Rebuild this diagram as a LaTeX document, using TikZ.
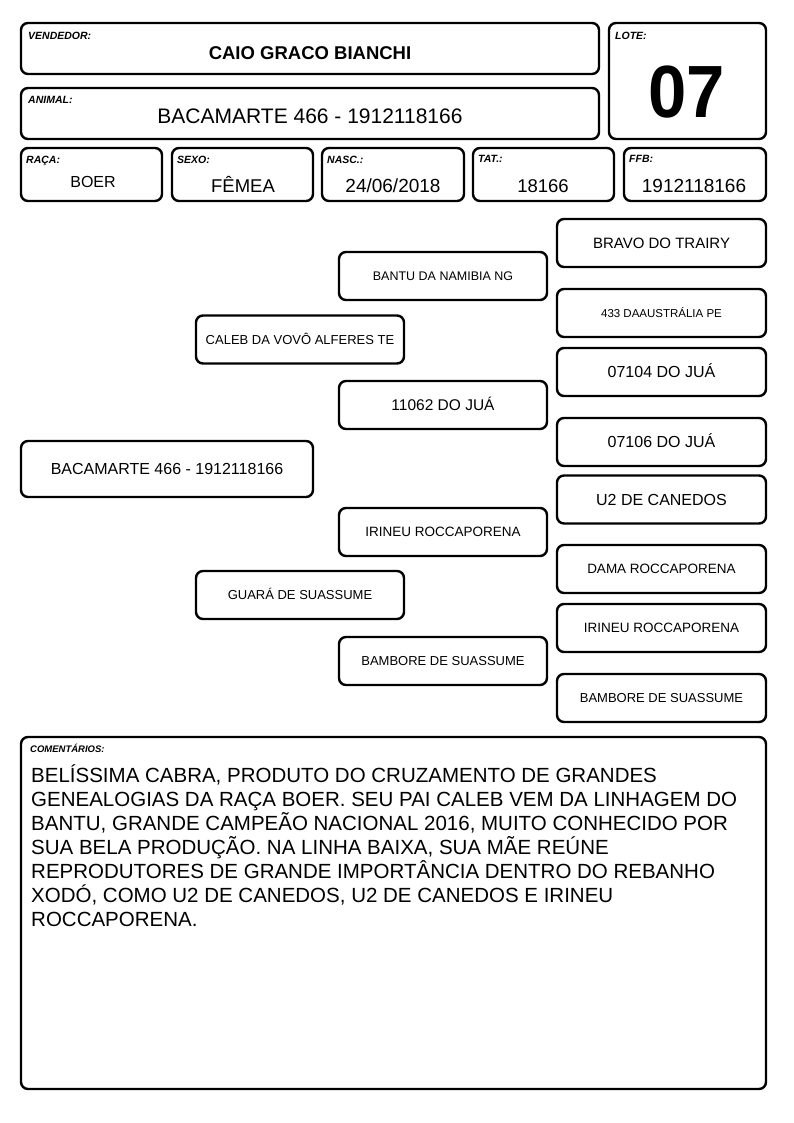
\documentclass[tikz,border=0pt]{standalone}
\usepackage{fontspec}
\setmainfont{Liberation Sans}
\usetikzlibrary{positioning}
\newcommand{\fs}[1]{\fontsize{#1}{#1}\selectfont}
\tikzset{caixa/.style={draw,rounded corners=7pt,line width=2.4pt,inner sep=0pt}}
\tikzset{rotulo/.style={anchor=north west,inner sep=0pt,font=\fs{10.5}\bfseries\itshape}}
\tikzset{valor/.style={inner sep=0pt,font=\fs{#1},text height=#1*0.716pt,text depth=0pt}}
\tikzset{ped/.style={caixa,minimum width=208pt,minimum height=48pt,font=\fs{#1},text height=#1*0.716pt,text depth=0pt}}

\begin{document}
\begin{tikzpicture}[x=1pt,y=-1pt]
  \useasboundingbox (0,0) rectangle (794,1123);
  % cabecalho
  \node[caixa,minimum width=578pt,minimum height=51pt] (vendedor) at (310,48.5) {};
  \node[rotulo] (lvendedor) at (28,31.5) {VENDEDOR:};
  \node[valor=18.5] (nvendedor) at (310,53) {\bfseries CAIO GRACO BIANCHI};

  \node[caixa,minimum width=578pt,minimum height=51pt] (animal) at (310,113.5) {};
  \node[rotulo] (lanimal) at (28,96.5) {ANIMAL:};
  \node[valor=21] (nanimal) at (310,116) {BACAMARTE 466 - 1912118166};

  \node[caixa,minimum width=157pt,minimum height=116pt] (lote) at (687.5,81) {};
  \node[rotulo] (llote) at (615,31.5) {LOTE:};
  \node[valor=74,xscale=.93] (nlote) at (686.5,91.5) {\bfseries 07};

  % linha de dados
  \node[caixa,minimum width=141pt,minimum height=53pt] (raca) at (91.5,174.5) {};
  \node[caixa,minimum width=141pt,minimum height=53pt] (sexo) at (242.5,174.5) {};
  \node[caixa,minimum width=142pt,minimum height=53pt] (nasc) at (393,174.5) {};
  \node[caixa,minimum width=141pt,minimum height=53pt] (tat) at (543.5,174.5) {};
  \node[caixa,minimum width=142pt,minimum height=53pt] (ffb) at (695,174.5) {};
  \node[rotulo] (lraca) at (26,155.5) {RAÇA:};
  \node[rotulo] (lsexo) at (177,155.5) {SEXO:};
  \node[rotulo] (lnasc) at (327,155.5) {NASC.:};
  \node[rotulo] (ltat) at (478,155.5) {TAT.:};
  \node[rotulo] (lffb) at (629,155.5) {FFB:};
  \node[valor=16] (nraca) at (93,182) {BOER};
  \node[valor=18.5] (nsexo) at (243,186) {FÊMEA};
  \node[valor=19] (nnasc) at (393,186) {24/06/2018};
  \node[valor=18.5] (ntat) at (543,186) {18166};
  \node[valor=19] (nffb) at (694,186) {1912118166};

  % genealogia
  \node[ped=16,minimum width=292pt,minimum height=56pt] (prop) at (167,469) {BACAMARTE 466 - 1912118166};

  \node[ped=13] (pai) at (300,339.5) {CALEB DA VOVÔ ALFERES TE};
  \node[ped=13] (mae) at (300,595) {GUARÁ DE SUASSUME};

  \node[ped=12.5] (avopp) at (443,276) {BANTU DA NAMIBIA NG};
  \node[ped=15.5] (avopm) at (443,405) {11062 DO JUÁ};
  \node[ped=13.5] (avomp) at (443,532) {IRINEU ROCCAPORENA};
  \node[ped=13] (avomm) at (443,661) {BAMBORE DE SUASSUME};

  \node[ped=15,minimum width=209pt] (bis1) at (661.5,243) {BRAVO DO TRAIRY};
  \node[ped=11.5,minimum width=209pt] (bis2) at (661.5,313) {433 DAAUSTRÁLIA PE};
  \node[ped=16,minimum width=209pt] (bis3) at (661.5,372) {07104 DO JUÁ};
  \node[ped=16,minimum width=209pt] (bis4) at (661.5,442) {07106 DO JUÁ};
  \node[ped=16,minimum width=209pt] (bis5) at (661.5,499.5) {U2 DE CANEDOS};
  \node[ped=13.5,minimum width=209pt] (bis6) at (661.5,569) {DAMA ROCCAPORENA};
  \node[ped=13.5,minimum width=209pt] (bis7) at (661.5,628) {IRINEU ROCCAPORENA};
  \node[ped=13,minimum width=209pt] (bis8) at (661.5,698) {BAMBORE DE SUASSUME};

  % comentarios
  \node[caixa,minimum width=745pt,minimum height=352pt] (coment) at (393.5,913) {};
  \node[rotulo,font=\fs{9.5}\bfseries\itshape] (lcoment) at (30,744) {COMENTÁRIOS:};
  \node[anchor=north west,inner sep=0pt,align=left,font=\fontsize{20.5}{24}\selectfont] (tcoment) at (31,762)
    {\rule{0pt}{20pt}BELÍSSIMA CABRA, PRODUTO DO CRUZAMENTO DE GRANDES\\
     GENEALOGIAS DA RAÇA BOER. SEU PAI CALEB VEM DA LINHAGEM DO\\
     BANTU, GRANDE CAMPEÃO NACIONAL 2016, MUITO CONHECIDO POR\\
     SUA BELA PRODUÇÃO. NA LINHA BAIXA, SUA MÃE REÚNE\\
     REPRODUTORES DE GRANDE IMPORTÂNCIA DENTRO DO REBANHO\\
     XODÓ, COMO U2 DE CANEDOS, U2 DE CANEDOS E IRINEU\\
     ROCCAPORENA.};
\end{tikzpicture}
\end{document}
